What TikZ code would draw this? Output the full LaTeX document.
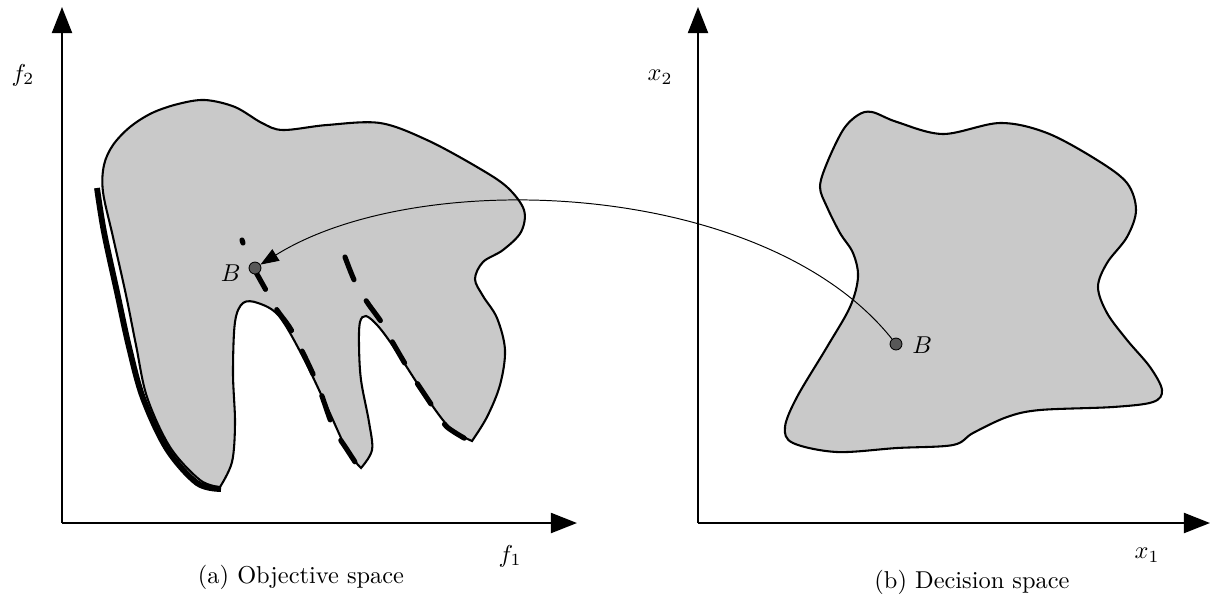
\documentclass[tikz,border=0pt]{standalone}
\usetikzlibrary{arrows.meta}
\definecolor{regfill}{RGB}{201,201,201}
\definecolor{ptfill}{RGB}{88,88,88}
\begin{document}
\begin{tikzpicture}[x=0.41pt,y=-0.41pt,
  axis/.style={line width=0.9pt,-{Triangle[length=10.7pt,width=8.2pt]}},
  region/.style={fill=regfill,draw=black,line width=0.85pt},
  front/.style={line width=2.4pt},
  dfront/.style={line width=2.1pt,line cap=round},
  bpt/.style={circle,draw=black,fill=ptfill,line width=0.35pt,inner sep=0pt,minimum size=4.9pt},
  lbl/.style={inner sep=0pt},
  maparrow/.style={line width=0.4pt,-{Triangle[length=7.5pt,width=5.5pt]}}]
\useasboundingbox (0,0) rectangle (1211,598);

% ---------- left: objective space ----------
\coordinate (oL) at (62,523);
\coordinate (yL) at (62,7);
\coordinate (xL) at (577,523);
\draw[axis] (oL) -- (yL);
\draw[axis] (oL) -- (xL);

\path[region]
  plot[smooth,tension=0.55] coordinates {(472,441) (450,428) (427,398) (395,349) (378,326) (366,316) (360,322) (359,345) (361,380) (369,422) (372,450) (361,468)}
  -- plot[smooth,tension=0.55] coordinates {(361,468) (347,450) (327,407) (303,357) (279,316) (258,303) (243,303) (235,322) (233,373) (235,423) (232,462) (220,487)}
  -- plot[smooth,tension=0.55] coordinates {(220,487) (200,480) (170,447) (147,397) (136,345) (126,295) (113,237) (103,192) (104,165) (113,145) (130,127) (152,113) (178,104) (205,100) (235,107) (262,123) (283,130) (327,125) (380,123) (427,140) (477,167) (507,187) (524,210) (521,232) (503,250) (483,262) (475,279) (483,296) (497,318) (505,350) (500,385) (487,417) (472,441)}
  -- cycle;

% thick solid front
\draw[front] plot[smooth,tension=0.55] coordinates {(97,188) (104,232) (117,292) (129,347) (143,398) (167,449) (197,483) (221,489)};

% dashed fronts
\draw[dfront] (242,240) -- (243,243);
\draw[dfront,dash pattern=on 10.5pt off 9.5pt] plot[smooth,tension=0.5] coordinates {(253,267) (267,292) (277,310) (293,333) (317,383) (333,427) (346,448) (359,468)};
\draw[dfront,dash pattern=on 10pt off 10pt] plot[smooth,tension=0.5] coordinates {(345,257) (355,282) (367,302) (382,323) (393,343) (407,367) (417,383) (435,410) (447,427) (471,442)};

\node[bpt] (bL) at (255,268) {};
\node[lbl,anchor=east] (bLl) at (241,273) {$B$};

\node[lbl] (f2) at (23,75) {$f_2$};
\node[lbl] (f1) at (510,556) {$f_1$};
\node[lbl] (capa) at (301,577) {(a) Objective space};

% ---------- right: decision space ----------
\coordinate (oR) at (698,523);
\coordinate (yR) at (698,7);
\coordinate (xR) at (1210,523);
\draw[axis] (oR) -- (yR);
\draw[axis] (oR) -- (xR);

\path[region] plot[smooth cycle,tension=0.55] coordinates {
  (872,112) (897,122) (943,134) (1000,123) (1047,133) (1097,160) (1127,183) (1136,210)
  (1127,237) (1107,263) (1098,287) (1107,313) (1127,340) (1150,367) (1162,390) (1153,402)
  (1113,407) (1040,410) (1007,417) (973,433) (953,445) (897,448) (837,452) (793,443)
  (785,427) (797,397) (827,347) (850,307) (858,277) (853,253) (840,233) (827,207)
  (820,187) (827,163) (843,130) (858,115)};

\node[bpt] (bR) at (896,344) {};
\node[lbl,anchor=west] (bRl) at (912,345) {$B$};

\node[lbl] (x2) at (660,77) {$x_2$};
\node[lbl] (x1) at (1147,555) {$x_1$};
\node[lbl] (capb) at (972,582) {(b) Decision space};

% mapping arrow
\draw[maparrow] (bR) .. controls (765,180) and (420,165) .. (bL);
\end{tikzpicture}
\end{document}
